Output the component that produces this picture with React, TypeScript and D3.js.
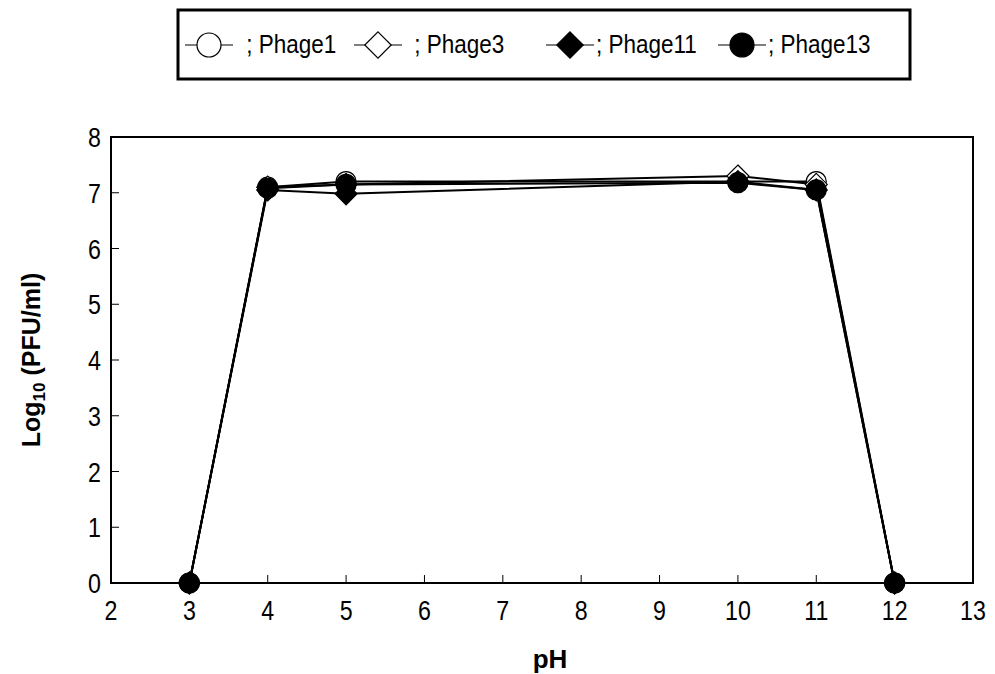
import React from "react";
import * as d3 from "d3";

// pH values tested
const phValues = [3, 4, 5, 10, 11, 12];

// log10 PFU/ml for each phage
const phage1 = [0, 7.1, 7.2, 7.2, 7.2, 0];
const phage3 = [0, 7.1, 7.15, 7.3, 7.15, 0];
const phage11 = [0, 7.05, 6.98, 7.2, 7.05, 0];
const phage13 = [0, 7.08, 7.15, 7.18, 7.05, 0];

// error bars (sd)
const phage1Err = [0, 0.05, 0.05, 0.05, 0.05, 0];
const phage3Err = [0, 0.05, 0.05, 0.12, 0.05, 0];
const phage11Err = [0, 0.05, 0.1, 0.05, 0.05, 0];
const phage13Err = [0, 0.05, 0.05, 0.05, 0.05, 0];

const xTicks = [2, 3, 4, 5, 6, 7, 8, 9, 10, 11, 12, 13];
const yTicks = [0, 1, 2, 3, 4, 5, 6, 7, 8];

const seriesNames = ["Phage1", "Phage3", "Phage11", "Phage13"];

const width = 995;
const height = 674;
const left = 111, right = 973, top = 137, bottom = 583;

type Shape = "circle" | "diamond";

function Marker({ cx, cy, shape, filled, r }: { cx: number; cy: number; shape: Shape; filled: boolean; r: number }) {
  const fill = filled ? "#000" : "#fff";
  if (shape === "circle") {
    return <circle cx={cx} cy={cy} r={r} fill={fill} stroke="#000" strokeWidth={1.2} />;
  }
  const s = r * 1.1;
  return (
    <path
      d={`M${cx},${cy - s}L${cx + s},${cy}L${cx},${cy + s}L${cx - s},${cy}Z`}
      fill={fill}
      stroke="#000"
      strokeWidth={1.2}
    />
  );
}

// narrow-looking text (the original uses a condensed Arial look)
function NText({ x, y, anchor, size, sx, children }: { x: number; y: number; anchor?: string; size: number; sx?: number; children: React.ReactNode }) {
  return (
    <text
      transform={`translate(${x},${y}) scale(${sx || 0.86},1)`}
      textAnchor={anchor || "start"}
      fontFamily="'Liberation Sans', Arial, sans-serif"
      fontSize={size}
      fill="#000"
    >
      {children}
    </text>
  );
}

export default function App() {
  const x = d3.scaleLinear().domain([2, 13]).range([left, right]);
  const y = d3.scaleLinear().domain([0, 8]).range([bottom, top]);

  const series = [
    { name: seriesNames[0], values: phage1, err: phage1Err, shape: "circle" as Shape, filled: false },
    { name: seriesNames[1], values: phage3, err: phage3Err, shape: "diamond" as Shape, filled: false },
    { name: seriesNames[2], values: phage11, err: phage11Err, shape: "diamond" as Shape, filled: true },
    { name: seriesNames[3], values: phage13, err: phage13Err, shape: "circle" as Shape, filled: true },
  ];

  const line = d3
    .line<number>()
    .x((_, i) => x(phValues[i]))
    .y((d) => y(d));

  const boldFont = "'Liberation Sans', Arial, sans-serif";

  // legend layout: symbol centres and text starts
  const legendSym = [209, 378, 570, 742];
  const legendText = [240, 408, 596, 768];
  const legendY = 45;

  return (
    <svg width={width} height={height} style={{ position: "absolute", left: 0, top: 0, background: "#fff" }}>
      {/* legend box */}
      <rect x={178} y={10} width={732} height={69} fill="#fff" stroke="#000" strokeWidth={3} />
      {series.map((s, i) => (
        <g key={s.name}>
          <line x1={legendSym[i] - 24} x2={legendSym[i] + 24} y1={legendY} y2={legendY} stroke="#000" strokeWidth={1.2} />
          <Marker cx={legendSym[i]} cy={legendY} shape={s.shape} filled={s.filled} r={12} />
          <NText x={legendText[i]} y={legendY + 8} size={25} sx={0.9}>
            {(i < 2 ? "\u00a0; " : "; ") + s.name}
          </NText>
        </g>
      ))}

      {/* plot frame */}
      <rect x={left} y={top} width={right - left} height={bottom - top} fill="#fff" stroke="#000" strokeWidth={2} />

      {/* ticks */}
      {xTicks.map((t) => (
        <g key={"x" + t}>
          {t > 2 && t < 13 && <line x1={x(t)} x2={x(t)} y1={bottom} y2={bottom - 8} stroke="#000" strokeWidth={1} />}
          <NText x={x(t)} y={bottom + 37} anchor="middle" size={27}>
            {t}
          </NText>
        </g>
      ))}
      {yTicks.map((t) => (
        <g key={"y" + t}>
          {t > 0 && t < 8 && <line x1={left} x2={left + 8} y1={y(t)} y2={y(t)} stroke="#000" strokeWidth={1} />}
          <NText x={left - 10} y={y(t) + 10} anchor="end" size={27}>
            {t}
          </NText>
        </g>
      ))}

      {/* axis titles */}
      <text x={550} y={668} textAnchor="middle" fontFamily={boldFont} fontSize={26} fontWeight="bold">
        pH
      </text>
      <text
        transform={`translate(40,${(top + bottom) / 2}) rotate(-90)`}
        textAnchor="middle"
        fontFamily={boldFont}
        fontSize={25}
        fontWeight="bold"
      >
        Log<tspan fontSize={17} dy={5}>10</tspan>
        <tspan dy={-5}> (PFU/ml)</tspan>
      </text>

      {/* lines */}
      {series.map((s) => (
        <path key={"l" + s.name} d={line(s.values) || ""} fill="none" stroke="#000" strokeWidth={2} />
      ))}

      {/* error bars */}
      {series.map((s) =>
        s.values.map((v, i) =>
          s.err[i] > 0 ? (
            <g key={"e" + s.name + i}>
              <line x1={x(phValues[i])} x2={x(phValues[i])} y1={y(v - s.err[i])} y2={y(v + s.err[i])} stroke="#000" />
              <line x1={x(phValues[i]) - 5} x2={x(phValues[i]) + 5} y1={y(v + s.err[i])} y2={y(v + s.err[i])} stroke="#000" />
              <line x1={x(phValues[i]) - 5} x2={x(phValues[i]) + 5} y1={y(v - s.err[i])} y2={y(v - s.err[i])} stroke="#000" />
            </g>
          ) : null
        )
      )}

      {/* markers */}
      {series.map((s) =>
        s.values.map((v, i) => (
          <Marker key={"m" + s.name + i} cx={x(phValues[i])} cy={y(v)} shape={s.shape} filled={s.filled} r={10} />
        ))
      )}
    </svg>
  );
}
